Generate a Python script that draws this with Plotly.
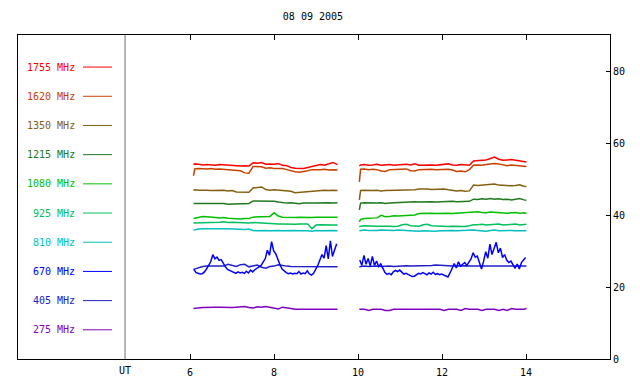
import plotly.graph_objects as go

# ---- time grids (UT hours) ----
T1 = [6.08, 6.11] + [round(6.2 + 0.1 * i, 2) for i in range(33)] + [9.51]
T2 = [10.03, 10.06] + [round(10.15 + 0.1 * i, 2) for i in range(39)] + [14.01]
T1F = [round(6.09 + 0.05 * i, 2) for i in range(69)]
T2F = [round(10.04 + 0.05 * i, 2) for i in range(80)]

freqs = ["1755 MHz", "1620 MHz", "1350 MHz", "1215 MHz", "1080 MHz",
         "925 MHz", "810 MHz", "670 MHz", "405 MHz", "275 MHz"]
colors = ["#ff0000", "#c84000", "#846010", "#207820", "#00c000",
          "#00c060", "#00c0c0", "#0000ff", "#2020c8", "#8000c0"]

f1755_a = [54.0, 54.2, 54.1, 53.9, 54.0, 53.9, 53.8, 54.0, 53.9, 53.8, 53.7, 53.7, 53.6, 53.7, 53.6,
           54.5, 54.4, 54.6, 54.1, 54.2, 54.1, 54.3, 53.8, 53.7, 53.2, 53.0, 52.9, 52.9, 53.2, 53.4,
           53.8, 54.0, 53.8, 54.2, 54.6, 54.0]
f1755_b = [53.6, 53.9, 54.0, 53.8, 53.9, 54.1, 53.8, 53.9, 54.0, 53.8, 53.9, 54.2, 54.1, 53.9, 54.2,
           53.8, 53.9, 54.0, 53.9, 53.8, 53.9, 54.0, 54.2, 53.9, 53.8, 54.0, 53.9, 53.8, 55.0, 55.0,
           55.2, 55.3, 55.8, 56.1, 55.5, 55.2, 55.3, 55.4, 55.2, 55.0, 54.9, 54.7]

f1620_a = [50.9, 52.8, 52.9, 52.8, 52.8, 52.9, 52.7, 52.8, 52.7, 52.6, 52.4, 52.4, 52.3, 51.7, 51.6,
           53.5, 53.5, 53.4, 53.0, 53.1, 52.9, 53.0, 52.9, 52.6, 52.2, 52.0, 51.9, 52.0, 52.3, 52.6,
           52.5, 52.6, 52.7, 52.5, 52.6, 52.5]
f1620_b = [49.2, 52.7, 52.8, 52.6, 52.7, 52.6, 52.2, 52.1, 52.6, 52.7, 52.6, 52.7, 52.8, 52.3, 52.2,
           52.6, 52.7, 52.6, 52.7, 52.6, 52.7, 52.6, 52.7, 52.5, 52.1, 52.2, 52.0, 52.6, 53.8, 53.9,
           53.8, 54.0, 54.2, 54.3, 54.2, 53.9, 53.7, 53.9, 53.8, 53.6, 53.7, 53.5]

f1350_a = [46.9, 47.0, 46.9, 47.0, 46.9, 46.8, 46.9, 46.8, 46.9, 46.7, 46.8, 46.4, 46.3, 46.2, 46.3,
           47.5, 47.6, 47.8, 47.1, 46.9, 47.0, 46.9, 46.8, 46.9, 46.6, 46.2, 46.3, 46.4, 46.7, 46.8,
           46.7, 46.8, 46.9, 46.8, 46.9, 46.8]
f1350_b = [44.2, 46.8, 46.9, 46.8, 46.8, 46.9, 46.7, 46.8, 46.8, 46.9, 46.8, 46.9, 46.8, 46.9, 47.0,
           47.2, 47.3, 47.2, 47.1, 47.2, 47.1, 47.2, 47.0, 46.8, 46.7, 46.8, 46.6, 46.7, 48.3, 48.2,
           48.3, 48.4, 48.5, 48.6, 48.3, 48.2, 48.3, 48.1, 48.2, 48.4, 48.0, 47.9]

f1215_a = [43.2, 43.2, 43.1, 43.3, 43.2, 43.1, 43.2, 43.1, 43.2, 43.0, 43.1, 43.2, 43.1, 43.1, 43.2,
           43.9, 43.9, 43.8, 43.8, 43.9, 43.8, 43.6, 43.4, 43.3, 43.4, 43.2, 43.1, 43.3, 43.4, 43.3,
           43.3, 43.4, 43.3, 43.4, 43.3, 43.4]
f1215_b = [41.4, 43.3, 43.4, 43.3, 43.2, 43.3, 43.4, 43.2, 43.3, 43.4, 43.5, 43.6, 43.7, 43.8, 43.7,
           43.6, 43.7, 43.6, 43.7, 43.6, 43.7, 43.6, 43.7, 43.8, 43.7, 43.8, 43.7, 43.8, 44.4, 44.3,
           44.5, 44.4, 44.6, 44.4, 44.5, 44.3, 44.4, 44.2, 44.4, 44.6, 44.2, 44.1]

f1080_a = [39.0, 39.1, 39.2, 39.6, 39.5, 39.3, 39.3, 39.2, 39.3, 39.1, 39.0, 39.0, 38.9, 39.0, 39.0,
           39.4, 39.5, 39.4, 39.5, 39.6, 40.6, 39.7, 39.4, 39.3, 39.4, 39.3, 39.4, 39.3, 39.4, 39.3,
           39.4, 39.4, 39.3, 39.4, 39.5, 39.4]
f1080_b = [38.1, 38.8, 39.0, 39.1, 39.2, 39.2, 39.9, 39.5, 39.6, 39.8, 39.7, 39.8, 39.9, 39.8, 40.0,
           40.4, 40.5, 40.4, 40.5, 40.4, 40.5, 40.4, 40.5, 40.4, 40.5, 40.4, 40.5, 40.6, 40.7, 40.9,
           40.7, 40.6, 40.8, 40.7, 40.6, 40.7, 40.5, 40.6, 40.7, 40.5, 40.6, 40.4]

f925_a = [37.8, 37.8, 37.9, 37.8, 37.9, 37.8, 37.9, 38.0, 38.1, 37.9, 38.0, 37.9, 37.8, 37.9, 37.8,
          37.9, 37.8, 37.8, 37.6, 37.5, 37.6, 37.5, 37.5, 37.4, 37.5, 37.4, 37.5, 37.4, 37.5, 36.2,
          37.2, 37.3, 37.2, 37.3, 37.2, 37.2]
f925_b = [36.7, 36.9, 37.0, 36.9, 36.8, 36.9, 36.9, 37.0, 36.9, 36.8, 36.9, 37.3, 37.4, 37.0, 36.9,
          36.9, 37.3, 37.4, 37.0, 36.9, 36.8, 36.9, 36.8, 36.9, 36.8, 36.9, 36.8, 37.0, 37.3, 37.3,
          37.4, 37.2, 37.3, 37.6, 37.5, 37.2, 37.3, 37.6, 37.5, 37.2, 37.3, 37.4]

f810_a = [35.8, 35.9, 36.1, 36.2, 36.1, 36.2, 36.2, 36.1, 36.2, 36.2, 36.1, 36.2, 36.1, 36.0, 36.1,
          35.7, 35.6, 35.7, 35.7, 35.6, 35.7, 35.7, 35.6, 35.7, 35.6, 35.7, 35.6, 35.7, 35.6, 35.5,
          35.7, 35.6, 35.7, 35.6, 35.7, 35.6]
f810_b = [35.6, 35.7, 35.8, 35.7, 35.6, 35.7, 35.8, 35.7, 35.6, 35.7, 35.8, 35.7, 35.6, 35.7, 35.6,
          35.5, 35.6, 35.5, 35.6, 35.5, 35.6, 35.7, 35.6, 35.7, 35.6, 35.7, 35.6, 35.7, 35.8, 35.7,
          35.6, 35.5, 35.7, 35.8, 35.6, 35.7, 35.6, 35.7, 35.6, 35.5, 35.6, 35.7]

f670_a = [24.9, 24.0, 23.8, 23.6, 23.7, 24.2, 25.0, 26.0, 27.0, 29.0, 27.8, 28.3, 27.4, 27.6, 26.5,
          25.6, 24.9, 24.6, 24.3, 24.0, 23.8, 24.2, 23.9, 24.1, 23.8, 24.4, 23.9, 24.7, 24.2, 24.8,
          25.1, 25.6, 26.0, 26.8, 27.9, 30.2, 28.8, 32.6, 30.0, 29.2, 27.5, 26.2, 25.0, 24.4, 24.0,
          23.7, 23.9, 23.6, 23.8, 23.7, 24.3, 23.6, 23.9, 23.7, 24.5, 23.6, 23.3, 23.8, 24.8, 26.0,
          27.5, 29.0, 28.0, 31.5, 27.8, 32.8, 28.5, 30.5, 32.0]
f670_b = [27.5, 26.0, 28.8, 26.3, 27.9, 25.8, 28.5, 26.0, 27.2, 25.7, 26.4, 25.0, 24.0, 23.5, 23.8,
          23.4, 24.2, 24.6, 24.3, 24.7, 24.2, 23.6, 23.8, 23.5, 23.1, 22.9, 23.0, 23.5, 23.8, 23.6,
          24.0, 23.7, 23.4, 23.9, 23.6, 24.1, 23.5, 23.7, 23.4, 23.6, 23.3, 23.0, 22.8, 23.9, 25.4,
          26.5, 25.3, 27.0, 25.8, 26.2, 26.8, 26.0, 27.0, 27.8, 29.5, 28.3, 28.6, 26.5, 25.0, 27.2,
          29.8, 28.0, 31.9, 29.0, 30.5, 32.4, 29.5, 30.8, 28.2, 29.0, 27.5, 26.8, 27.2, 26.0, 25.2,
          26.4, 25.0, 26.8, 27.5, 28.2]

f405_a = [24.9, 25.0, 25.4, 25.7, 25.8, 25.8, 25.6, 25.6, 25.8, 26.3, 26.0, 25.7, 26.2, 26.3, 25.6,
          25.9, 26.1, 25.5, 25.2, 25.7, 25.8, 26.2, 25.9, 25.8, 25.7, 25.7, 25.6, 25.6, 25.7, 25.6,
          25.7, 25.6, 25.6, 25.7, 25.6, 25.6]
f405_b = [25.6, 25.7, 25.8, 25.7, 25.8, 25.8, 25.7, 25.8, 25.8, 25.7, 25.8, 25.8, 25.9, 25.8, 25.8,
          25.9, 25.8, 25.9, 26.0, 26.1, 26.1, 26.0, 25.9, 25.8, 25.9, 25.8, 25.9, 25.8, 25.8, 25.9,
          25.8, 25.7, 25.8, 25.8, 25.9, 25.8, 25.7, 25.8, 25.9, 25.8, 25.7, 25.8]

f275_a = [14.0, 14.0, 14.2, 14.3, 14.4, 14.5, 14.4, 14.4, 14.3, 14.4, 14.3, 14.4, 14.4, 14.6, 14.3,
          14.2, 14.5, 14.4, 14.6, 14.3, 14.1, 13.9, 14.4, 14.3, 14.0, 13.8, 13.8, 13.8, 13.8, 13.9,
          13.8, 13.8, 13.8, 13.8, 13.8, 13.8]
f275_b = [13.8, 13.8, 13.8, 13.5, 13.8, 13.8, 13.8, 13.5, 13.5, 13.8, 13.8, 13.8, 13.8, 13.8, 13.8,
          13.8, 13.8, 13.8, 13.8, 13.8, 13.8, 13.5, 13.8, 13.8, 13.8, 13.5, 14.0, 13.8, 13.8, 13.8,
          13.5, 13.8, 13.8, 13.8, 13.5, 13.8, 13.5, 14.0, 13.8, 13.8, 13.8, 14.1]

series = [
    (f1755_a, f1755_b, False), (f1620_a, f1620_b, False), (f1350_a, f1350_b, False),
    (f1215_a, f1215_b, False), (f1080_a, f1080_b, False), (f925_a, f925_b, False),
    (f810_a, f810_b, False), (f670_a, f670_b, True), (f405_a, f405_b, False),
    (f275_a, f275_b, False),
]

MONO = "DejaVu Sans Mono"
fig = go.Figure()

order = list(range(len(series)))[::-1]
for k in order:
    a, b, fine = series[k]
    ta, tb = (T1F, T2F) if fine else (T1, T2)
    fig.add_trace(go.Scatter(
        x=list(ta) + [None] + list(tb), y=list(a) + [None] + list(b),
        mode="lines", line=dict(color=colors[k], width=1.5),
        connectgaps=False, showlegend=False, hoverinfo="skip"))

# legend-like labels on the left
row0, step = 0.901, 0.0901
for i, (name, c) in enumerate(zip(freqs, colors)):
    yy = row0 - i * step
    fig.add_annotation(x=0.099, y=yy, xref="paper", yref="paper", text=name,
                       showarrow=False, xanchor="right", yanchor="middle",
                       font=dict(family=MONO, size=10, color=c))
    fig.add_shape(type="line", xref="paper", yref="paper", x0=0.1098, x1=0.1588,
                  y0=yy, y1=yy, line=dict(color=c, width=1))

# grey separator with UT label
fig.add_shape(type="line", xref="x", yref="paper", x0=4.45, x1=4.45, y0=0, y1=1,
              line=dict(color="#707070", width=1))
fig.add_annotation(x=4.45, y=-0.037, xref="x", yref="paper", text="UT", showarrow=False,
                   xanchor="center", yanchor="middle",
                   font=dict(family=MONO, size=10, color="black"))

fig.update_layout(
    width=640, height=384,
    margin=dict(l=18, r=30, t=35, b=25, autoexpand=False),
    paper_bgcolor="white", plot_bgcolor="white",
    title=dict(text="08 09 2005", x=0.489, xanchor="center", y=0.956, yanchor="middle",
               font=dict(family=MONO, size=10, color="black")),
    font=dict(family=MONO, size=10, color="black"),
    xaxis=dict(range=[1.9, 16], tickvals=[6, 8, 10, 12, 14], ticks="inside", ticklen=5,
               tickcolor="black", showline=True, linecolor="black", linewidth=1,
               mirror="ticks", showgrid=False, zeroline=False, ticklabelstandoff=4,
               automargin=False,
               tickfont=dict(family=MONO, size=10, color="black")),
    yaxis=dict(range=[0, 90], side="right", tickvals=[0, 20, 40, 60, 80], ticks="inside",
               ticklen=4, tickcolor="black", showline=True, linecolor="black", linewidth=1,
               mirror=True, showgrid=False, zeroline=False, automargin=False,
               tickfont=dict(family=MONO, size=10, color="black")),
)

fig.write_html("out.html", config={"displayModeBar": False},
               post_script="document.body.style.margin='0';document.body.style.padding='0';")
